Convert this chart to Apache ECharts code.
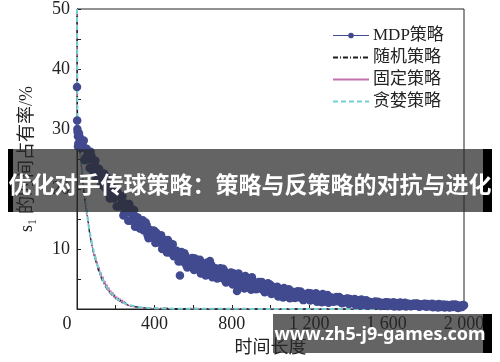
<!DOCTYPE html>
<html><head><meta charset="utf-8">
<script src="https://cdn.jsdelivr.net/npm/echarts@6/dist/echarts.min.js"></script>
<style>html,body{margin:0;padding:0;background:#fff}#c{width:500px;height:362px}</style>
</head><body><div id="c"></div>
<script>
// ---- data ----
const seriesNames = ['MDP策略', '随机策略', '固定策略', '贪婪策略'];
const xTickLabels = ['0', '400', '800', '1 200', '1 600', '2 000'];
const yTickLabels = ['', '10', '20', '30', '40', '50'];

// MDP strategy: first few steps, samples at t = 10,20,...,2000 and t = 5,15,...,1995, plus stray points
const mdpEarly = [[0, 37], [1, 31.4], [2, 30], [3, 29.5], [5, 28.8], [7, 27.6]];
const mdpStep = 10;
const mdpValuesA = [29.3,26.8,27.2,24.8,26.7,24.9,26.2,23.1,24.0,21.8,
23.4,22.1,20.8,22.6,20.3,21.4,18.4,20.0,18.4,19.8,
19.4,17.1,17.7,15.6,17.6,16.1,17.5,14.7,15.8,13.7,
15.3,14.4,13.4,14.8,13.2,14.0,11.8,13.0,11.9,13.0,
12.7,11.1,11.5,10.0,11.5,10.4,11.5,9.4,10.3,8.8,
9.7,8.9,8.0,9.5,8.0,8.9,6.9,8.2,7.2,8.4,
8.4,6.8,7.4,5.9,7.6,6.5,7.7,5.7,6.7,5.3,
6.8,6.1,5.3,6.8,5.4,6.4,4.4,5.8,4.8,6.0,
5.9,4.4,5.0,3.6,5.3,4.3,5.5,3.6,4.6,3.2,
4.5,4.0,3.4,4.5,3.5,4.2,2.8,3.8,3.1,4.0,
3.7,2.7,3.1,2.1,3.3,2.6,3.5,2.1,2.8,1.8,
2.8,2.4,1.95,2.95,2.06,2.72,1.48,2.42,1.82,2.62,
2.58,1.63,2.08,1.2,2.29,1.7,2.5,1.27,1.93,1.05,
1.89,1.61,1.28,2.0,1.37,1.83,0.94,1.6,1.16,1.72,
1.68,0.99,1.3,0.67,1.44,1.0,1.57,0.69,1.16,0.53,
1.14,0.95,0.72,1.24,0.8,1.13,0.52,0.99,0.7,1.1,
1.09,0.62,0.86,0.43,0.98,0.69,1.1,0.49,0.83,0.4,
0.85,0.7,0.52,0.93,0.59,0.86,0.37,0.75,0.52,0.84,
0.83,0.46,0.65,0.3,0.74,0.5,0.83,0.34,0.61,0.27,
0.65,0.5,0.32,0.73,0.39,0.66,0.17,0.55,0.32,0.64];
const mdpValuesB = [27.1,28.6,26.9,28.1,25.2,26.0,23.5,25.5,23.3,24.7,
22.7,23.3,20.7,21.8,20.2,21.9,19.1,20.3,18.8,20.1,
17.1,18.8,17.3,18.8,16.0,17.0,14.7,16.9,14.9,16.5,
14.7,15.2,13.4,14.2,13.1,14.4,12.3,13.2,12.2,13.1,
11.0,12.3,11.2,12.3,10.3,11.1,9.4,11.1,9.6,10.8,
9.3,9.7,7.9,8.8,7.9,9.3,7.3,8.3,7.4,8.5,
6.5,8.0,7.1,8.2,6.3,7.2,5.6,7.3,6.0,7.3,
6.1,6.8,5.1,6.1,5.2,6.7,4.8,5.9,5.0,6.1,
4.1,5.5,4.6,5.9,4.0,4.9,3.4,5.1,3.8,5.1,
4.0,4.5,3.3,4.0,3.4,4.5,3.1,3.9,3.2,4.1,
2.5,3.5,2.8,3.7,2.4,3.0,1.9,3.2,2.3,3.3,
2.43,2.87,1.84,2.49,1.95,2.92,1.71,2.44,1.91,2.68,
1.41,2.35,1.82,2.62,1.46,2.06,1.12,2.27,1.46,2.33,
1.61,1.92,1.2,1.66,1.28,1.98,1.11,1.62,1.23,1.77,
0.85,1.51,1.12,1.68,0.85,1.27,0.58,1.4,0.82,1.44,
0.93,1.16,0.66,0.99,0.73,1.22,0.62,1.0,0.74,1.13,
0.49,0.98,0.72,1.13,0.56,0.86,0.4,0.99,0.59,1.04,
0.68,0.87,0.47,0.74,0.53,0.93,0.45,0.75,0.55,0.86,
0.36,0.74,0.53,0.86,0.4,0.64,0.27,0.74,0.42,0.77,
0.48,0.67,0.27,0.54,0.33,0.73,0.25,0.55,0.35,0.66];
const mdpStray = [[532, 5.6], [687, 8.0], [904, 5.3], [987, 4.3], [827, 3.0]];

// the three baseline strategies share these time points
const fastTimes = [0,2,5,10,15,20,25,30,35,40,45,50,55,60,65,70,75,80,85,90,95,100,
105,110,115,120,125,130,135,140,145,150,155,160,165,170,175,180,185,190,195,200,
205,210,215,220,225,230,235,240,245,250,260,270,280,290,300,310,320,330,340,350,
360,370,380,390,400,450,500,600,700,800,900,1000,1100,1200,1300,1400,1500,1600,
1700,1800,1900,2000];
const randomValues = [50,33.5,
30.2,29.1,26.2,25.3,22.7,21.9,19.6,18.9,17.0,16.5,
14.7,14.3,12.7,12.4,11.0,10.8,9.4,9.4,8.2,8.2,
7.0,7.2,6.1,6.2,5.2,5.5,4.5,4.8,3.9,4.2,
3.3,3.6,2.9,3.1,2.5,2.7,2.2,2.4,1.8,2.1,
1.6,1.8,1.4,1.6,1.2,1.4,1.0,1.2,0.9,1.05,
0.7,0.8,0.5,0.6,0.4,0.5,0.3,0.38,0.22,0.3,0.16,0.24,0.12,0.2,0.09,
0.15,0.05,
0.1,0.02,0.04,0.02,0.03,0.02,0.01,0.02,0.01,0.02,0.01,0.01,0.02,0.01,0.01];
const fixedValues = [50,31.0,
31.3,28.0,27.1,24.4,23.6,21.0,20.5,18.2,17.9,15.8,
15.4,13.6,13.5,11.7,11.8,10.1,10.3,8.7,9.1,7.5,
7.9,6.4,7.0,5.5,6.1,4.7,5.4,4.1,4.7,3.5,
4.1,3.0,3.6,2.5,3.1,2.2,2.8,1.9,2.4,1.6,
2.1,1.4,1.9,1.2,1.7,1.0,1.5,0.9,1.3,0.75,
1.05,0.55,0.8,0.4,0.6,0.3,0.45,0.2,0.35,0.15,0.26,0.12,0.2,0.1,0.15,
0.06,0.08,
0.03,0.02,0.02,0.01,0.01,0.01,0.01,0.01,0.01,0.01,0.01,0.01,0.01,0.01,0.01];
const greedyValues = [50,32.4,
30.5,28.9,26.8,24.6,23.3,21.4,20.2,18.5,17.6,16.1,
15.2,13.9,13.1,12.0,11.4,10.4,9.9,9.0,8.6,7.8,
7.5,6.8,6.5,5.9,5.6,5.1,4.9,4.4,4.3,3.8,
3.7,3.3,3.2,2.8,2.7,2.5,2.4,2.1,2.05,1.9,
1.8,1.6,1.55,1.4,1.35,1.2,1.15,1.05,1.0,0.9,
0.8,0.7,0.6,0.5,0.45,0.4,0.33,0.3,0.25,0.22,0.19,0.17,0.15,0.13,0.11,
0.08,0.06,
0.04,0.03,0.03,0.02,0.02,0.02,0.02,0.02,0.02,0.02,0.02,0.02,0.02,0.02,0.02];

const bannerText = '优化对手传球策略：策略与反策略的对抗与进化';
const watermarkText = 'www.zh5-j9-games.com';

// ---- build ----
const mdpData = mdpEarly
  .concat(mdpValuesA.map((v, i) => [(i + 1) * mdpStep, v]))
  .concat(mdpValuesB.map((v, i) => [i * mdpStep + mdpStep / 2, v]))
  .concat(mdpStray)
  .sort((a, b) => a[0] - b[0]);
const pair = vals => fastTimes.map((t, i) => [t, vals[i]]);

const C_MDP = '#424a8f', C_RAND = '#1e1e1e', C_FIX = '#c46fae', C_GREEDY = '#74d0d2';
const serif = "'Liberation Serif','Noto Sans CJK SC',serif";

const chart = echarts.init(document.getElementById('c'), null, {renderer: 'canvas'});
chart.setOption({
  animation: false,
  backgroundColor: '#fff',
  grid: {left: 77, right: 36, top: 9, bottom: 50, show: true, borderColor: '#222', borderWidth: 1, backgroundColor: 'transparent'},
  legend: {
    orient: 'vertical', left: 332, top: 27, padding: 0, itemWidth: 36, itemHeight: 7, itemGap: 5,
    textStyle: {fontSize: 17, color: '#222', fontFamily: serif, padding: [0, 0, 0, -1]},
    data: [
      {name: seriesNames[0], lineStyle: {opacity: 1, width: 1.2, color: C_MDP}},
      {name: seriesNames[1], itemStyle: {opacity: 0}},
      {name: seriesNames[2], itemStyle: {opacity: 0}},
      {name: seriesNames[3], itemStyle: {opacity: 0}}
    ]
  },
  xAxis: {
    type: 'value', min: 0, max: 2000, interval: 200,
    name: '时间长度', nameLocation: 'middle', nameGap: 30,
    nameTextStyle: {fontSize: 18, color: '#222', fontFamily: serif},
    axisLine: {lineStyle: {color: '#222', width: 1}},
    axisTick: {inside: true, length: 4, lineStyle: {color: '#222'}},
    splitLine: {show: false},
    axisLabel: {
      fontSize: 18, color: '#222', fontFamily: serif, margin: 6,
      formatter: v => (v === 0 ? '{z|0}' : (v % 400 === 0 ? xTickLabels[v / 400] : '')),
      rich: {z: {fontSize: 18, color: '#222', fontFamily: serif, padding: [0, 20, 0, 0]}}
    }
  },
  yAxis: {
    type: 'value', min: 0, max: 50, interval: 10,
    name: 's₁ 的时间占有率/%', nameLocation: 'middle', nameGap: 41,
    nameTextStyle: {fontSize: 18, color: '#222', fontFamily: serif},
    axisLine: {lineStyle: {color: '#222', width: 1}},
    axisTick: {inside: true, length: 4, lineStyle: {color: '#222'}},
    minorTick: {show: true, splitNumber: 2, length: 4, lineStyle: {color: '#222'}},
    splitLine: {show: false},
    axisLabel: {fontSize: 18, color: '#222', fontFamily: serif, margin: 7,
      formatter: v => yTickLabels[v / 10]}
  },
  series: [
    {name: seriesNames[0], type: 'line', data: mdpData, symbol: 'circle', symbolSize: 8.5,
      showSymbol: true, lineStyle: {opacity: 0}, itemStyle: {color: C_MDP}, z: 5},
    {name: seriesNames[2], type: 'line', data: pair(fixedValues), symbol: 'none',
      lineStyle: {color: C_FIX, width: 1.2}, itemStyle: {color: C_FIX}, z: 2},
    {name: seriesNames[1], type: 'line', data: pair(randomValues), symbol: 'none',
      lineStyle: {color: C_RAND, width: 1.2, type: [5, 2, 1, 2]}, itemStyle: {color: C_RAND}, z: 3},
    {name: seriesNames[3], type: 'line', data: pair(greedyValues), symbol: 'none',
      lineStyle: {color: C_GREEDY, width: 2, type: [5, 3]}, itemStyle: {color: C_GREEDY}, z: 4}
  ],
  graphic: [
    {type: 'rect', z: 100, shape: {x: 8, y: 149, width: 5, height: 63}, style: {fill: '#000'}},
    {type: 'rect', z: 100, shape: {x: 483, y: 149, width: 9, height: 63}, style: {fill: '#000'}},
    {type: 'rect', z: 100, shape: {x: 13, y: 149, width: 470, height: 63}, style: {fill: 'rgba(40,40,40,0.72)'}},
    {type: 'text', z: 101, x: 250, y: 184, style: {text: bannerText, fill: '#fff', align: 'center', verticalAlign: 'middle',
      font: "bold 23px 'Noto Sans CJK SC'"}},
    {type: 'rect', z: 100, shape: {x: 273, y: 314, width: 210, height: 39}, style: {fill: 'rgba(40,40,40,0.72)'}},
    {type: 'rect', z: 100, shape: {x: 483, y: 314, width: 9, height: 39}, style: {fill: '#000'}},
    {type: 'text', z: 101, x: 380, y: 335, style: {text: watermarkText, fill: '#fff', align: 'center', verticalAlign: 'middle',
      font: "bold 18px 'Noto Sans'"}}
  ]
});
</script>
</body></html>
